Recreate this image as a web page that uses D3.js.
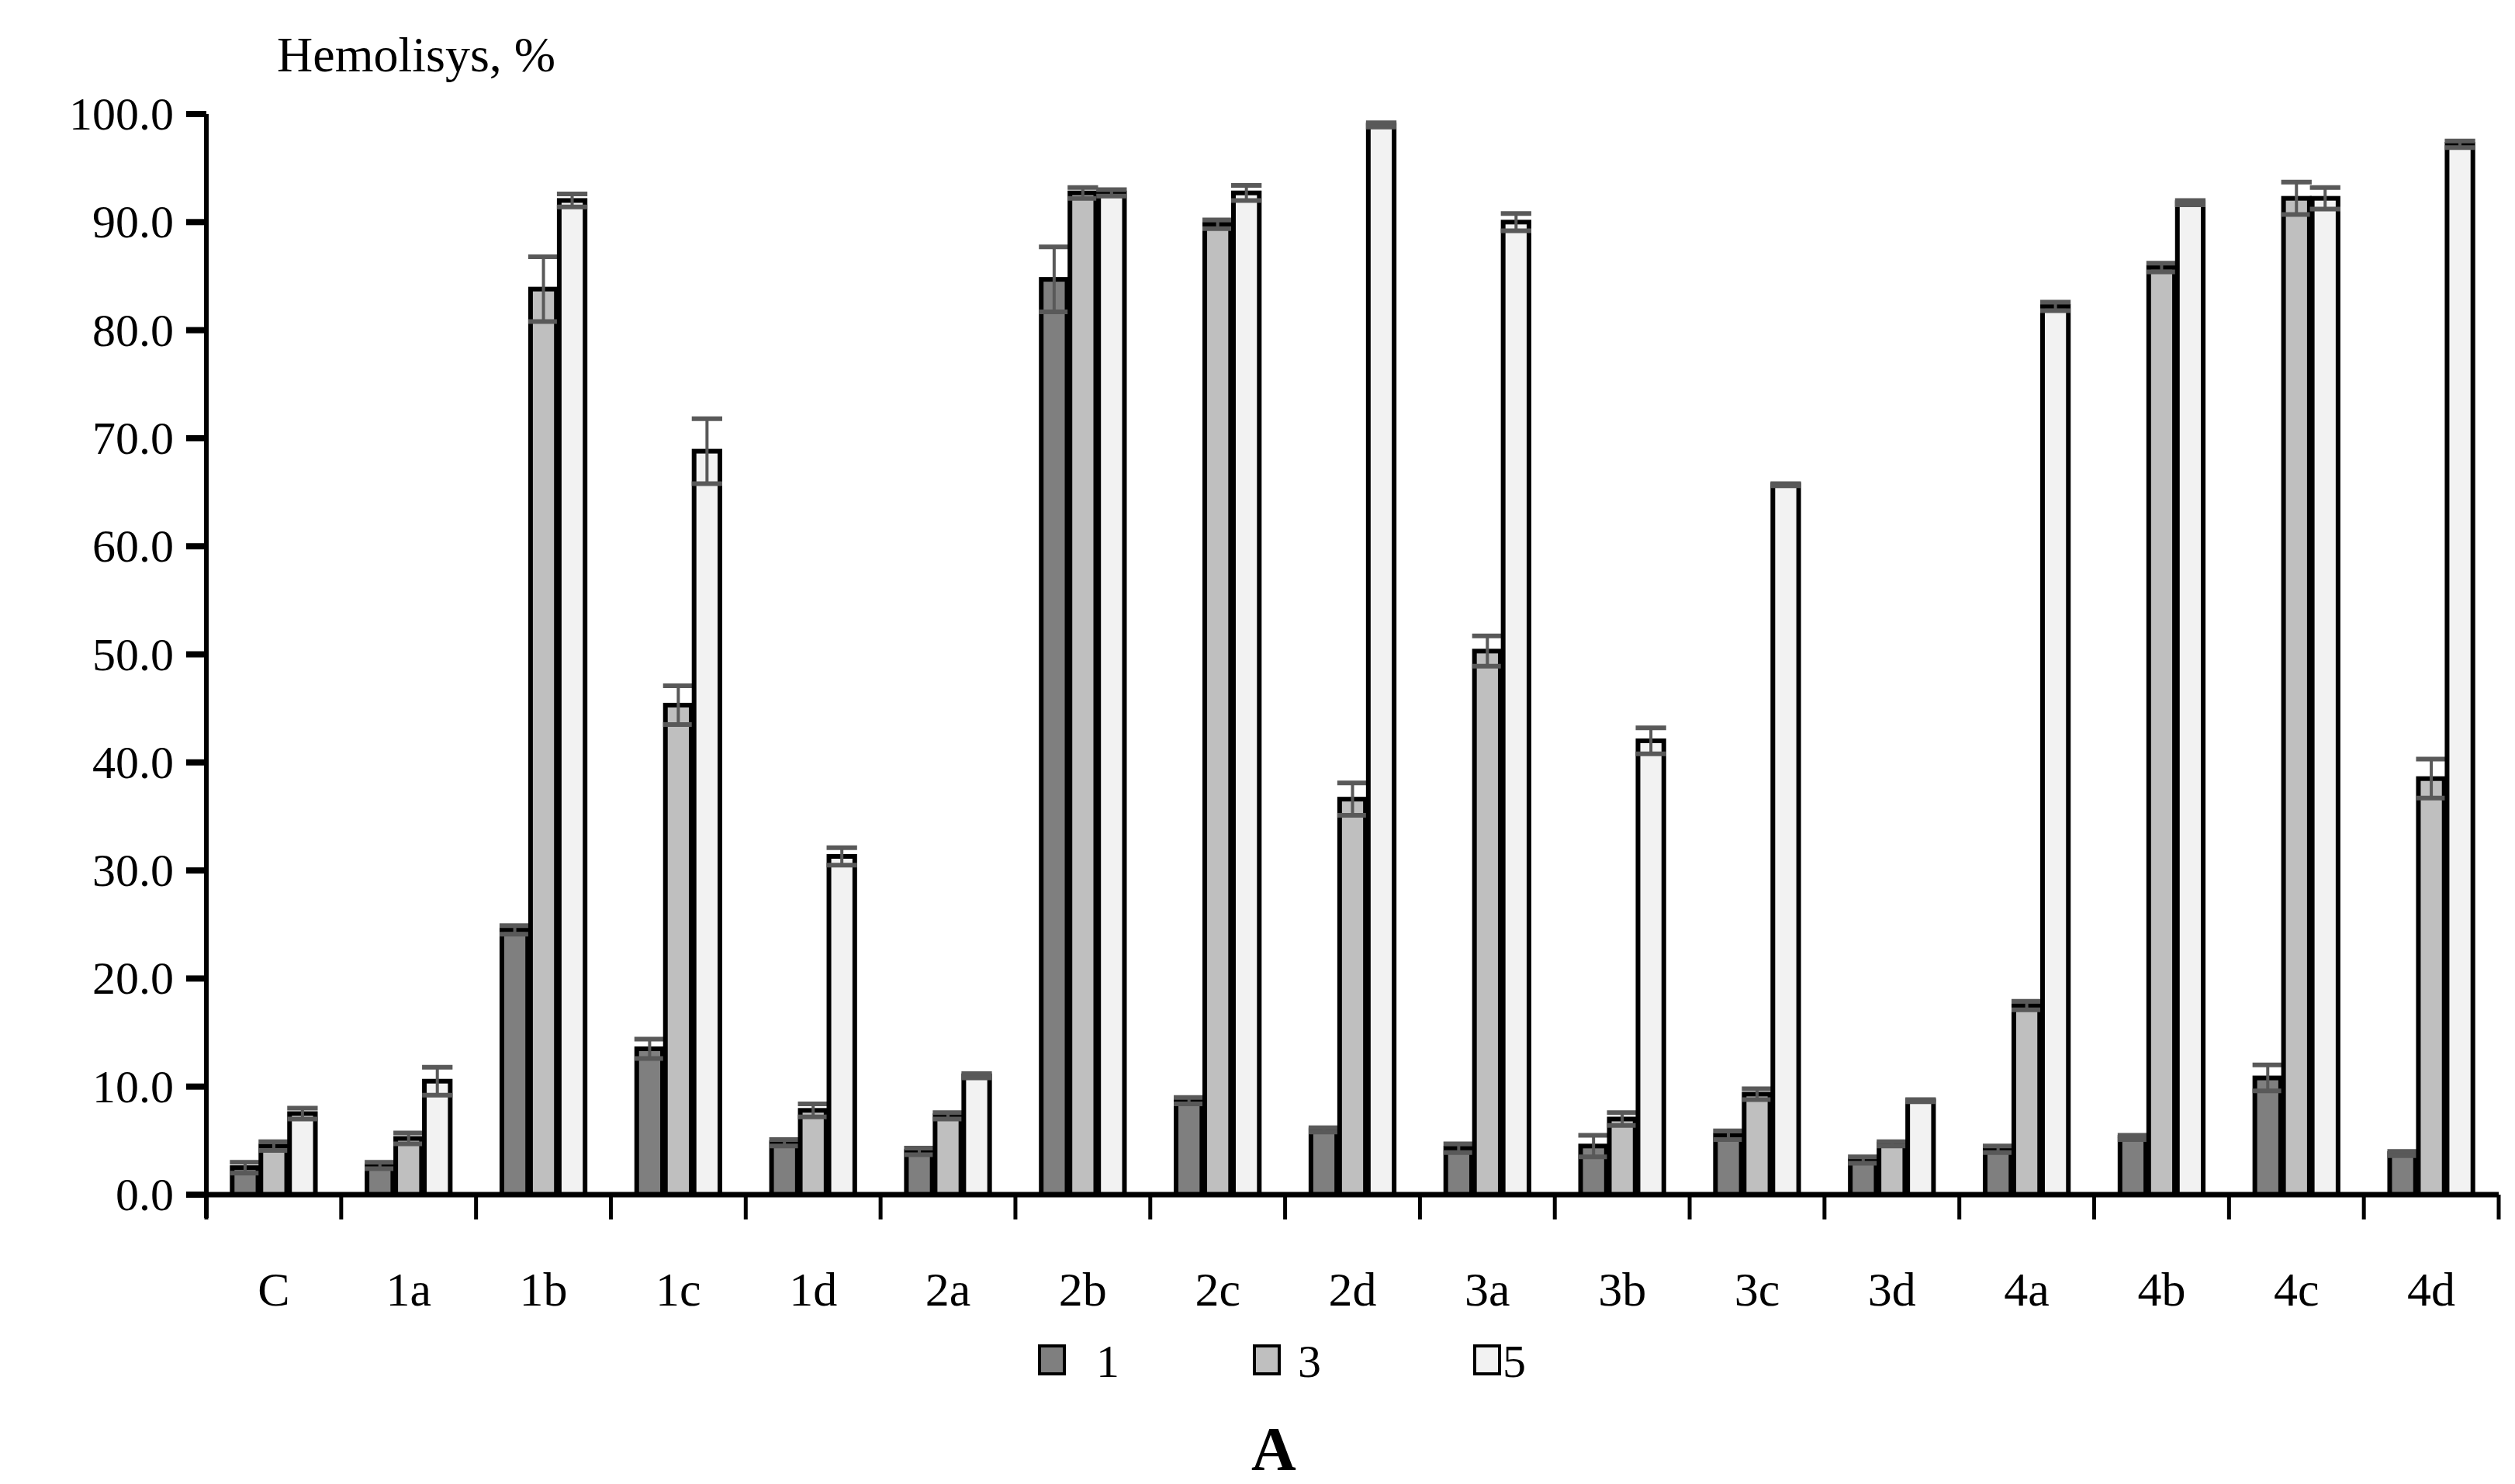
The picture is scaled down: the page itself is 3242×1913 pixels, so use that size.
<!DOCTYPE html><html><head><meta charset="utf-8"><script src="https://cdn.jsdelivr.net/npm/d3@7"></script>
<style>body{margin:0;background:#fff}text{font-family:"Liberation Serif","DejaVu Serif",serif}</style></head><body><svg id="c" width="3242" height="1913"></svg>
<script>
const categories=["C","1a","1b","1c","1d","2a","2b","2c","2d","3a","3b","3c","3d","4a","4b","4c","4d"];
const seriesNames=["1","3","5"];
const s1=[2.5,2.7,24.5,13.5,4.8,4.0,84.7,8.7,6.0,4.3,4.5,5.5,3.2,4.2,5.3,10.8,3.8];
const s3=[4.5,5.2,83.8,45.3,7.8,7.3,92.7,89.8,36.6,50.3,7.0,9.3,4.7,17.5,85.8,92.2,38.5];
const s5=[7.5,10.5,92.0,68.8,31.3,11.0,92.7,92.7,99.0,90.0,42.0,65.7,8.7,82.2,91.8,92.2,97.2];
const e1=[0.5,0.3,0.4,0.9,0.3,0.3,3.0,0.3,0.2,0.4,1.0,0.4,0.3,0.3,0.2,1.2,0.2];
const e3=[0.4,0.5,3.0,1.8,0.6,0.3,0.5,0.4,1.5,1.4,0.6,0.5,0.2,0.4,0.4,1.5,1.8];
const e5=[0.5,1.3,0.6,3.0,0.8,0.2,0.3,0.7,0.2,0.8,1.2,0.1,0.1,0.4,0.2,1.0,0.3];
const yTicks=[0,10,20,30,40,50,60,70,80,90,100];
const colors=["#7f7f7f","#bfbfbf","#f2f2f2"];
const vals=[s1,s3,s5], errs=[e1,e3,e5];
const svg=d3.select("#c");
const L=266,R=3221,T=147,B=1540;
const x=d3.scaleBand().domain(categories).range([L,R]).paddingInner(0).paddingOuter(0);
const xs=d3.scaleBand().domain(seriesNames).range([0,x.bandwidth()]).paddingInner(0.1).paddingOuter(0.9);
const y=d3.scaleLinear().domain([0,100]).range([B,T]);
// y axis
svg.append("line").attr("x1",L).attr("x2",L).attr("y1",T).attr("y2",B+30).attr("stroke","#000").attr("stroke-width",6);
yTicks.forEach(t=>{
 svg.append("line").attr("x1",L-26).attr("x2",L).attr("y1",y(t)).attr("y2",y(t)).attr("stroke","#000").attr("stroke-width",8);
 svg.append("text").attr("x",L-42).attr("y",y(t)+20).attr("text-anchor","end").attr("font-size",60).text(t.toFixed(1));
});
svg.append("text").attr("x",357).attr("y",92).attr("font-size",64).text("Hemolisys, %");
// bars
categories.forEach((c,i)=>{
 seriesNames.forEach((s,j)=>{
  const bx=x(c)+xs(s), w=xs.bandwidth(), v=vals[j][i], e=errs[j][i];
  svg.append("rect").attr("x",bx).attr("y",y(v)).attr("width",w).attr("height",B-y(v)).attr("fill",colors[j]).attr("stroke","#000").attr("stroke-width",6);
  const cx=bx+w/2;
  svg.append("line").attr("x1",cx).attr("x2",cx).attr("y1",y(v+e)).attr("y2",y(Math.max(0,v-e))).attr("stroke","#595959").attr("stroke-width",4);
  [v+e,Math.max(0,v-e)].forEach(q=>svg.append("line").attr("x1",bx-3).attr("x2",bx+w+3).attr("y1",y(q)).attr("y2",y(q)).attr("stroke","#595959").attr("stroke-width",6));
 });
 svg.append("text").attr("x",x(c)+x.bandwidth()/2).attr("y",1683).attr("text-anchor","middle").attr("font-size",62).text(c);
});
// x axis
svg.append("line").attr("x1",L-26).attr("x2",R).attr("y1",B).attr("y2",B).attr("stroke","#000").attr("stroke-width",7);
categories.concat(["end"]).forEach((c,i)=>{
 const xx=i<categories.length?x(c):R;
 svg.append("line").attr("x1",xx).attr("x2",xx).attr("y1",B).attr("y2",B+32).attr("stroke","#000").attr("stroke-width",5);
});
// legend
const lg=[[1340,1413],[1617,1673],[1901,1937]];
seriesNames.forEach((s,j)=>{
 svg.append("rect").attr("x",lg[j][0]).attr("y",1735).attr("width",32).attr("height",36).attr("fill",colors[j]).attr("stroke","#000").attr("stroke-width",4);
 svg.append("text").attr("x",lg[j][1]).attr("y",1775).attr("font-size",60).text(s);
});
svg.append("text").attr("x",1642).attr("y",1895).attr("text-anchor","middle").attr("font-size",80).attr("font-weight","bold").text("A");
</script></body></html>
